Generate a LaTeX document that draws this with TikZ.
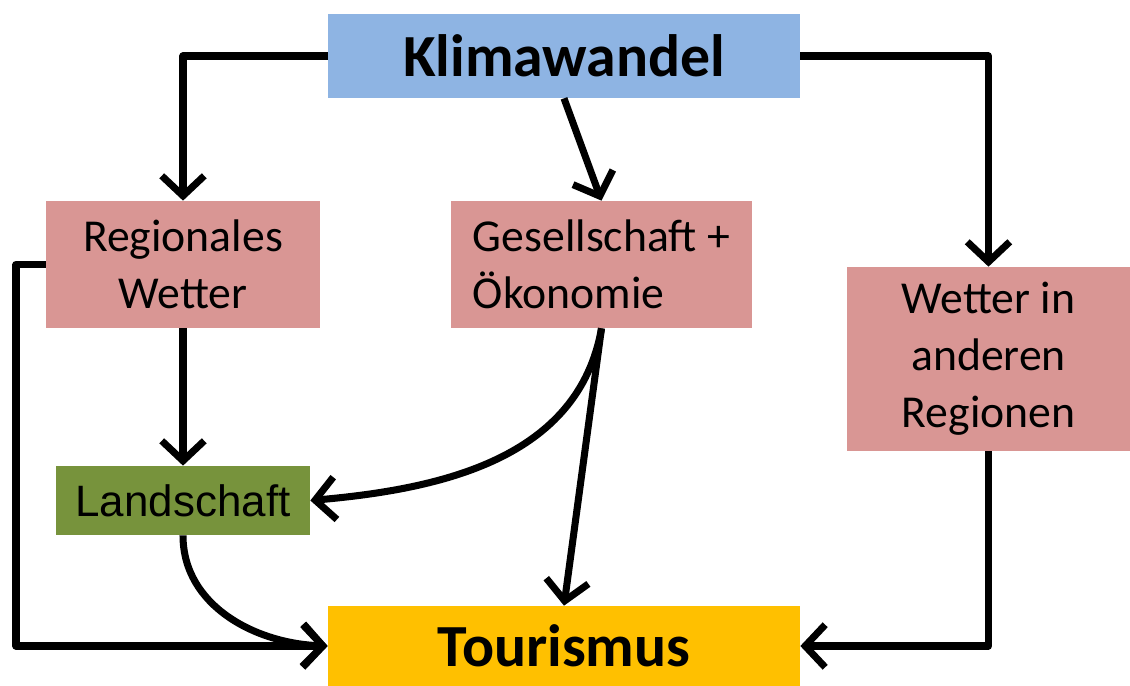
\documentclass[tikz,border=0pt]{standalone}
\usepackage{fontspec}
\setmainfont{Carlito}
\newfontfamily\arialfont{Liberation Sans}
\usetikzlibrary{arrows.meta}
\definecolor{klimablue}{HTML}{8EB4E3}
\definecolor{wetterrot}{HTML}{D99694}
\definecolor{landgruen}{HTML}{77933C}
\definecolor{tourgelb}{HTML}{FFC000}
\begin{document}
\begin{tikzpicture}
  [every node/.style={inner sep=0pt,align=center,font=\fontsize{26}{32.4}\selectfont}]

  \tikzstyle{box}  = [fill=wetterrot]
  \tikzstyle{big}  = [font=\fontsize{34}{40}\selectfont\bfseries]
  \tikzstyle{pfeil} = [line width=4pt, line join=round, -{Straight Barb[length=4mm,width=8.5mm,line width=4pt]}]

  \useasboundingbox (0,0) rectangle (22.6,-13.72);

  \node[big,fill=klimablue,minimum width=9.44cm,minimum height=1.68cm] (klima) at (11.28,-1.12) {Klimawandel};
  \node[box,minimum width=5.48cm,minimum height=2.54cm] (regw) at (3.66,-5.29) {Regionales\\Wetter};
  \node[box,align=left,minimum width=6.02cm,minimum height=2.54cm] (gesell) at (12.03,-5.29) {Gesellschaft +\\Ökonomie};
  \node[box,minimum width=5.66cm,minimum height=3.68cm] (anderw) at (19.77,-7.18) {Wetter in\\anderen\\Regionen};
  \node[fill=landgruen,font=\fontsize{25}{30}\selectfont\arialfont,minimum width=5.08cm,minimum height=1.38cm] (land) at (3.66,-10.01) {Landschaft};
  \node[big,fill=tourgelb,minimum width=9.44cm,minimum height=1.6cm] (tour) at (11.28,-12.92) {Tourismus};

  \coordinate (links) at (0.32,-5.29);

  \draw[pfeil] (klima.west) -| (regw.north);
  \draw[pfeil] (klima.east) -| (anderw.north);
  \draw[pfeil] (klima.south) -- (gesell.north);
  \draw[pfeil] (regw.south) -- (land.north);
  \draw[pfeil] (gesell.south) to[out=-100,in=5] (land.east);
  \draw[pfeil] (gesell.south) -- (tour.north);
  \draw[pfeil] (land.south) to[out=-90,in=178] (tour.west);
  \draw[pfeil] (regw.west) -- (links) |- (tour.west);
  \draw[pfeil] (anderw.south) |- (tour.east);
\end{tikzpicture}
\end{document}
